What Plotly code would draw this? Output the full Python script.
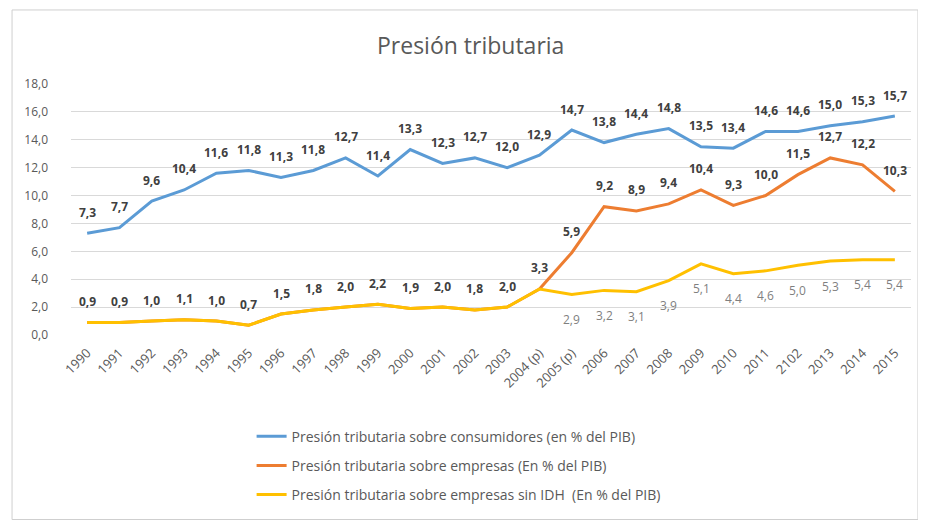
import plotly.graph_objs as go

years = ["1990", "1991", "1992", "1993", "1994", "1995", "1996", "1997", "1998", "1999",
         "2000", "2001", "2002", "2003", "2004 (p)", "2005 (p)", "2006", "2007", "2008",
         "2009", "2010", "2011", "2102", "2013", "2014", "2015"]

consumidores = [7.3, 7.7, 9.6, 10.4, 11.6, 11.8, 11.3, 11.8, 12.7, 11.4, 13.3, 12.3, 12.7,
                12.0, 12.9, 14.7, 13.8, 14.4, 14.8, 13.5, 13.4, 14.6, 14.6, 15.0, 15.3, 15.7]

empresas = [0.9, 0.9, 1.0, 1.1, 1.0, 0.7, 1.5, 1.8, 2.0, 2.2, 1.9, 2.0, 1.8,
            2.0, 3.3, 5.9, 9.2, 8.9, 9.4, 10.4, 9.3, 10.0, 11.5, 12.7, 12.2, 10.3]

sin_idh = [0.9, 0.9, 1.0, 1.1, 1.0, 0.7, 1.5, 1.8, 2.0, 2.2, 1.9, 2.0, 1.8,
           2.0, 3.3, 2.9, 3.2, 3.1, 3.9, 5.1, 4.4, 4.6, 5.0, 5.3, 5.4, 5.4]

# the sin IDH labels only appear once the series splits from empresas
sin_idh_label_from = 15

names = ["Presión tributaria sobre consumidores (en % del PIB)",
         "Presión tributaria sobre empresas (En % del PIB)",
         "Presión tributaria sobre empresas sin IDH  (En % del PIB)"]
colors = ["#5B9BD5", "#ED7D31", "#FFC000"]

font = "Open Sans"
gray = "#595959"


def fmt(v):
    return f"{v:.1f}".replace(".", ",")


fig = go.Figure()
for i, (vals, name, col) in enumerate(zip([consumidores, empresas, sin_idh], names, colors)):
    fig.add_trace(go.Scatter(x=years, y=vals, mode="lines", name=name, legendgroup=str(i),
                             line=dict(color=col, width=3), hoverinfo="skip"))

# annotations on a category axis take the category index
annotations = []
for vals in [consumidores, empresas]:
    for i, y in enumerate(vals):
        annotations.append(dict(x=i, y=y, text=fmt(y), showarrow=False, yshift=21,
                                font=dict(family=font, size=12, color="#404040", weight="bold")))
for i in range(sin_idh_label_from, len(years)):
    annotations.append(dict(x=i, y=sin_idh[i], text=fmt(sin_idh[i]), showarrow=False, yshift=-25,
                            font=dict(family=font, size=12, color="#7F7F7F")))

annotations.append(dict(text="Presión tributaria", xref="paper", yref="paper", x=0.476, y=1.155,
                        showarrow=False, xanchor="center", yanchor="middle",
                        font=dict(family=font, size=23, color=gray)))

# the page body adds an 8px offset, so the figure is 8px smaller than the window
fig.update_layout(
    width=918, height=519,
    margin=dict(l=63, r=15, t=76, b=192),
    paper_bgcolor="white", plot_bgcolor="white",
    separators=",.",
    showlegend=True,
    legend=dict(orientation="v", x=0.215, y=-0.341, xanchor="left", yanchor="top",
                tracegroupgap=8, font=dict(family=font, size=14, color=gray),
                bgcolor="rgba(0,0,0,0)"),
    xaxis=dict(type="category", range=[-0.5, len(years) - 0.5], tickangle=-45, showgrid=False,
               showline=False, ticks="", automargin=False, ticklabelstandoff=7,
               tickfont=dict(family=font, size=13, color=gray)),
    yaxis=dict(range=[0, 18], dtick=2, tickformat=".1f", gridcolor="#D9D9D9", gridwidth=1,
               zeroline=False, showline=False, ticks="", automargin=False, ticklabelstandoff=22,
               tickfont=dict(family=font, size=12, color=gray)),
    annotations=annotations,
    shapes=[dict(type="rect", xref="paper", yref="paper", x0=-0.0702, x1=1.0083,
                 y0=-0.735, y1=1.295, line=dict(color="#CFCFCF", width=1))],
)

fig.write_html("out.html")
